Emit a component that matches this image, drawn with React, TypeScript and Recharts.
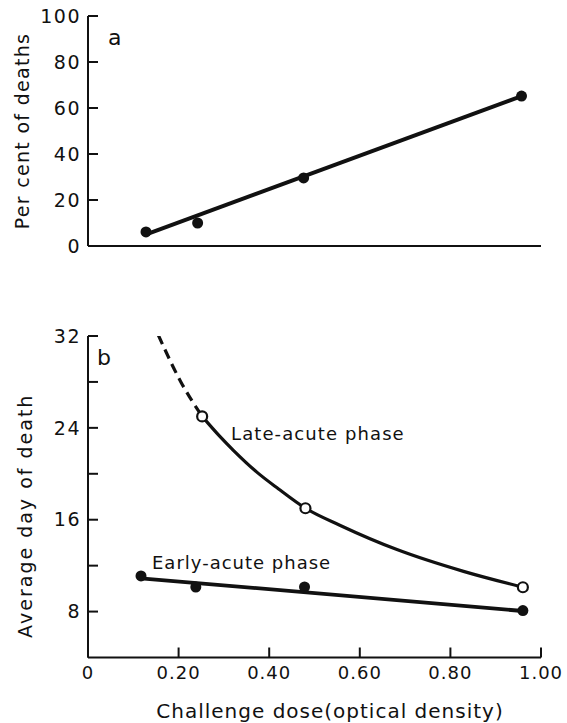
import { ComposedChart, Line, Scatter, XAxis, YAxis } from 'recharts';

// panel a: per cent of deaths vs challenge dose
const doseA = [0.128, 0.242, 0.476, 0.957];
const pctDeaths = [6.1, 10.0, 29.6, 65.2];
const fitDoseA = [0.13, 0.957];
const fitPctA = [5.2, 65.2];

// panel b: average day of death
const doseEarly = [0.117, 0.238, 0.478, 0.96];
const dayEarly = [11.1, 10.14, 10.14, 8.09];
const fitDoseEarly = [0.117, 0.96];
const fitDayEarly = [10.9, 8.05];

const doseLate = [0.252, 0.48, 0.96];
const dayLate = [25.0, 17.0, 10.12];
const curveDoseLate = [0.252, 0.29, 0.322, 0.374, 0.42, 0.48, 0.557, 0.682, 0.829, 0.96];
const curveDayLate = [25.0, 23.3, 22.0, 20.1, 18.7, 17.0, 15.5, 13.4, 11.5, 10.12];
const dashDoseLate = [0.155, 0.205, 0.252];
const dashDayLate = [32.1, 28.0, 25.0];

const xTicksA = [0.2, 0.4, 0.6, 0.8, 1.0];
const xTicksB = [0, 0.2, 0.4, 0.6, 0.8, 1.0];
const yTicksA = [0, 20, 40, 60, 80, 100];
const yTicksB = [8, 12, 16, 20, 24, 28, 32];
const yLabelsB = [8, 16, 24, 32];

const FONT = '"DejaVu Sans", sans-serif';
const INK = '#111';

const pts = (xs: number[], ys: number[]) => xs.map((x, i) => ({ x, y: ys[i] }));

const FilledDot = (p: any) => <circle cx={p.cx} cy={p.cy} r={5.5} fill={INK} />;
const OpenDot = (p: any) => <circle cx={p.cx} cy={p.cy} r={5} fill="#fff" stroke={INK} strokeWidth={2.2} />;

const yTitle = (text: string, dx: number, dy: number, ls: number) => (props: any) => {
  const vb = props.viewBox;
  const x = vb.x + dx;
  const y = vb.y + vb.height / 2 + dy;
  return (
    <text x={x} y={y} transform={`rotate(-90 ${x} ${y})`} textAnchor="middle" dominantBaseline="central"
      fontFamily={FONT} fontSize={19} letterSpacing={ls} fill={INK}>{text}</text>
  );
};

const xTitle = (props: any) => {
  const vb = props.viewBox;
  return (
    <text x={vb.x + 242} y={vb.y + 60.5} textAnchor="middle" fontFamily={FONT} fontSize={20} letterSpacing={1} fill={INK}>
      Challenge dose(optical density)
    </text>
  );
};

const axisStyle = { stroke: INK, strokeWidth: 2 };

export default function App() {
  return (
    <div style={{ position: 'absolute', left: 0, top: 0, width: 567, height: 723, background: '#fff' }}>
      <div style={{ position: 'absolute', left: 0, top: 0 }}>
        <ComposedChart width={567} height={262} margin={{ top: 16, right: 26, bottom: 0, left: 0 }}>
          <XAxis type="number" dataKey="x" domain={[0, 1]} ticks={xTicksA} allowDataOverflow height={16}
            tick={false} tickSize={-10} axisLine={axisStyle} tickLine={axisStyle} />
          <YAxis type="number" dataKey="y" domain={[0, 100]} ticks={yTicksA} allowDataOverflow width={88}
            tickSize={-10} tickMargin={17} axisLine={axisStyle} tickLine={axisStyle}
            tick={{ fontSize: 19, fontFamily: FONT, fill: INK, letterSpacing: 1.5 }}
            label={{ content: yTitle('Per cent of deaths', 22, 0, 1.3) }} />
          <Line data={pts(fitDoseA, fitPctA)} dataKey="y" stroke={INK} strokeWidth={4} dot={false} isAnimationActive={false} />
          <Scatter data={pts(doseA, pctDeaths)} dataKey="y" shape={FilledDot} isAnimationActive={false} />
        </ComposedChart>
      </div>
      <div style={{ position: 'absolute', left: 0, top: 300 }}>
        <ComposedChart width={567} height={423} margin={{ top: 36, right: 26, bottom: 0, left: 0 }}>
          <XAxis type="number" dataKey="x" domain={[0, 1]} ticks={xTicksB} allowDataOverflow height={65.5}
            tickSize={-10} tickMargin={19} axisLine={axisStyle} tickLine={axisStyle}
            tickFormatter={(v: number) => (v === 0 ? '0' : v.toFixed(2))}
            tick={{ fontSize: 18, fontFamily: FONT, fill: INK, letterSpacing: 1 }}
            label={{ content: xTitle }} />
          <YAxis type="number" dataKey="y" domain={[4, 32]} ticks={yTicksB} allowDataOverflow width={88}
            tickSize={-10} tickMargin={17} axisLine={axisStyle} tickLine={axisStyle}
            tickFormatter={(v: number) => (yLabelsB.includes(v) ? String(v) : '')}
            tick={{ fontSize: 19, fontFamily: FONT, fill: INK, letterSpacing: 1.5 }}
            label={{ content: yTitle('Average day of death', 25, 19, 2) }} />
          <Line data={pts(dashDoseLate, dashDayLate)} dataKey="y" type="monotone" stroke={INK} strokeWidth={3.2}
            strokeDasharray="10 6" dot={false} isAnimationActive={false} />
          <Line data={pts(curveDoseLate, curveDayLate)} dataKey="y" type="monotone" stroke={INK} strokeWidth={3.2}
            dot={false} isAnimationActive={false} />
          <Line data={pts(fitDoseEarly, fitDayEarly)} dataKey="y" stroke={INK} strokeWidth={3.8} dot={false} isAnimationActive={false} />
          <Scatter data={pts(doseEarly, dayEarly)} dataKey="y" shape={FilledDot} isAnimationActive={false} />
          <Scatter data={pts(doseLate, dayLate)} dataKey="y" shape={OpenDot} isAnimationActive={false} />
        </ComposedChart>
      </div>
      <svg width={567} height={723} style={{ position: 'absolute', left: 0, top: 0, pointerEvents: 'none' }}>
        <g fontFamily={FONT} fill={INK}>
          <text x={108} y={45} fontSize={22}>a</text>
          <text x={97} y={365} fontSize={22}>b</text>
          <text x={231} y={439.5} fontSize={18} letterSpacing={1.1}>Late-acute phase</text>
          <text x={152} y={569} fontSize={18} letterSpacing={1}>Early-acute phase</text>
        </g>
      </svg>
    </div>
  );
}
